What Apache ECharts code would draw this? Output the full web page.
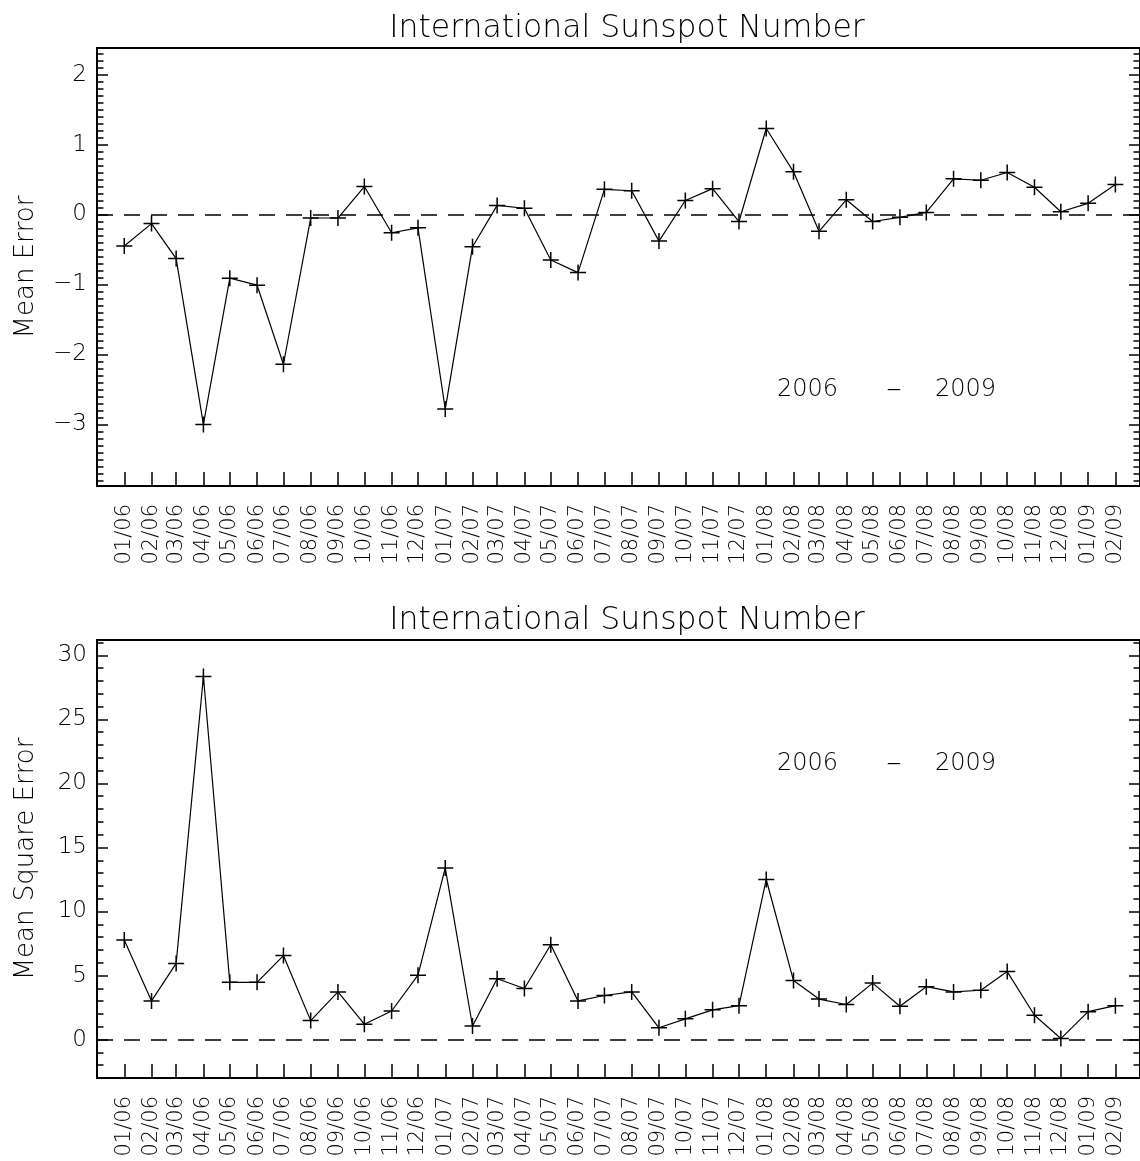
<!DOCTYPE html>
<html>
<head>
<meta charset="utf-8">
<script src="https://cdn.jsdelivr.net/npm/echarts@6/dist/echarts.min.js"></script>
<style>
  html, body { margin: 0; padding: 0; background: #fff; }
  #chart { width: 1140px; height: 1161px; }
</style>
</head>
<body>
<div id="chart"></div>
<script>
// Monthly verification of sunspot number forecasts, Jan 2006 - Feb 2009
const months = [
  '2006-01','2006-02','2006-03','2006-04','2006-05','2006-06','2006-07','2006-08','2006-09','2006-10','2006-11','2006-12',
  '2007-01','2007-02','2007-03','2007-04','2007-05','2007-06','2007-07','2007-08','2007-09','2007-10','2007-11','2007-12',
  '2008-01','2008-02','2008-03','2008-04','2008-05','2008-06','2008-07','2008-08','2008-09','2008-10','2008-11','2008-12',
  '2009-01','2009-02'
];

const meanError = [
  -0.45, -0.13, -0.63, -3.00, -0.91, -1.01, -2.14, -0.05, -0.05, 0.40, -0.26, -0.19,
  -2.78, -0.46, 0.13, 0.09, -0.65, -0.83, 0.36, 0.34, -0.38, 0.20, 0.37, -0.10,
  1.23, 0.61, -0.24, 0.21, -0.10, -0.04, 0.03, 0.51, 0.49, 0.60, 0.39, 0.04,
  0.16, 0.43
];

const meanSquareError = [
  7.77, 3.02, 5.95, 28.35, 4.47, 4.47, 6.56, 1.48, 3.72, 1.20, 2.23, 5.03,
  13.40, 1.06, 4.75, 3.99, 7.40, 3.02, 3.44, 3.72, 0.92, 1.62, 2.32, 2.65,
  12.50, 4.61, 3.16, 2.74, 4.41, 2.60, 4.13, 3.72, 3.85, 5.31, 1.90, 0.08,
  2.18, 2.65
];

const meTicks = [-3, -2, -1, 0, 1, 2];
const mseTicks = [0, 5, 10, 15, 20, 25, 30];

const titleText = 'International Sunspot Number';
const periodFrom = '2006';
const periodTo = '2009';

// ---------------------------------------------------------------------------
const FONT = 'DejaVu Sans';
const WEIGHT = 200;

// x positions are day numbers (UTC), so month lengths show in the spacing
const DAY = 86400000;
function monthDay(s) {
  const p = s.split('-').map(Number);
  return Date.UTC(p[0], p[1] - 1, 1) / DAY;
}
function fmtMonth(v) {
  const d = new Date(Math.round(v) * DAY);
  return String(d.getUTCMonth() + 1).padStart(2, '0') + '/' + String(d.getUTCFullYear() % 100).padStart(2, '0');
}
function fmtNum(v) {
  return v < 0 ? '\u2212' + Math.abs(v) : String(v);
}

const monthDays = months.map(monthDay);
const xMin = Date.UTC(2005, 11, 1) / DAY;
const xMax = Date.UTC(2009, 2, 1) / DAY;

const meMinor = [];
for (let i = -38; i <= 23; i++) meMinor.push(i / 10);
const mseMinor = [];
for (let i = -3; i <= 31; i++) mseMinor.push(i);

const plusSymbol = 'path://M0,8L16,8M8,0L8,16';

const GRID_LEFT = 97;
const GRID_WIDTH = 1050;
const GRID_HEIGHT = 438;
const grids = [
  { top: 48, yMin: -3.88, yMax: 2.38, major: meTicks, minor: meMinor, name: 'Mean Error', values: meanError },
  { top: 640, yMin: -3, yMax: 31.2, major: mseTicks, minor: mseMinor, name: 'Mean Square Error', values: meanSquareError }
];

const option = {
  animation: false,
  backgroundColor: '#fff',
  textStyle: { fontFamily: FONT, fontWeight: WEIGHT, color: '#000' },
  title: grids.map(g => ({
    text: titleText,
    left: GRID_LEFT + GRID_WIDTH / 2,
    top: g.top - 40,
    textAlign: 'center',
    textStyle: { fontFamily: FONT, fontWeight: WEIGHT, fontSize: 31.5, color: '#000' }
  })),
  grid: grids.map(g => ({
    left: GRID_LEFT, top: g.top, width: GRID_WIDTH, height: GRID_HEIGHT,
    show: true, borderColor: '#000', borderWidth: 2, backgroundColor: 'transparent'
  })),
  xAxis: grids.map((g, gi) => ({
    type: 'value', gridIndex: gi, min: xMin, max: xMax, scale: true,
    position: 'bottom',
    axisLine: { show: false, onZero: false },
    splitLine: { show: false },
    axisTick: { show: true, inside: true, length: 14, customValues: monthDays, lineStyle: { color: '#000', width: 1.5 } },
    axisLabel: {
      show: true, rotate: 90, margin: 18, customValues: monthDays,
      formatter: v => fmtMonth(v),
      fontFamily: FONT, fontWeight: WEIGHT, fontSize: 21, color: '#000'
    }
  })),
  yAxis: [],
  series: [],
  graphic: []
};

grids.forEach((g, gi) => {
  const base = {
    type: 'value', gridIndex: gi, min: g.yMin, max: g.yMax,
    axisLine: { show: false, onZero: false }, splitLine: { show: false }
  };
  // left: major ticks with labels and name
  option.yAxis.push(Object.assign({}, base, {
    position: 'left',
    name: g.name, nameLocation: 'middle', nameGap: 58, nameRotate: 90,
    nameTextStyle: { fontFamily: FONT, fontWeight: WEIGHT, fontSize: 26, color: '#000' },
    axisTick: { show: true, inside: true, length: 11, customValues: g.major, lineStyle: { color: '#000', width: 1.5 } },
    axisLabel: { show: true, margin: 10, customValues: g.major, formatter: v => fmtNum(v),
      fontFamily: FONT, fontWeight: WEIGHT, fontSize: 23, color: '#000' }
  }));
  // left: minor ticks
  option.yAxis.push(Object.assign({}, base, {
    position: 'left',
    axisTick: { show: true, inside: true, length: 6.5, customValues: g.minor, lineStyle: { color: '#000', width: 1.5 } },
    axisLabel: { show: false }
  }));
  // right: major ticks
  option.yAxis.push(Object.assign({}, base, {
    position: 'right',
    axisTick: { show: true, inside: true, length: 11, customValues: g.major, lineStyle: { color: '#000', width: 1.5 } },
    axisLabel: { show: false }
  }));
  // right: minor ticks
  option.yAxis.push(Object.assign({}, base, {
    position: 'right',
    axisTick: { show: true, inside: true, length: 6.5, customValues: g.minor, lineStyle: { color: '#000', width: 1.5 } },
    axisLabel: { show: false }
  }));

  option.series.push({
    type: 'line',
    xAxisIndex: gi,
    yAxisIndex: gi * 4,
    data: months.map((m, i) => [monthDays[i], g.values[i]]),
    symbol: plusSymbol,
    symbolSize: 16,
    showAllSymbol: true,
    lineStyle: { color: '#000', width: 1.2 },
    itemStyle: { color: 'rgba(0,0,0,0)', borderColor: '#000', borderWidth: 1.5 },
    emphasis: { disabled: true },
    markLine: {
      silent: true,
      symbol: ['none', 'none'],
      label: { show: false },
      lineStyle: { color: '#000', type: [16, 11], width: 1.5 },
      data: [{ yAxis: 0 }]
    }
  });

  // period annotation inside each panel
  const cy = gi === 0 ? 390 : 764;
  const txt = { fontFamily: FONT, fontWeight: WEIGHT, fontSize: 24, fill: '#000', verticalAlign: 'middle' };
  option.graphic.push(
    { type: 'text', x: 777, y: cy, style: Object.assign({ text: periodFrom, align: 'left' }, txt) },
    { type: 'text', x: 894, y: cy, style: Object.assign({}, txt, { text: '\u2013', align: 'center', fontSize: 31 }) },
    { type: 'text', x: 935, y: cy, style: Object.assign({ text: periodTo, align: 'left' }, txt) }
  );
});

const chart = echarts.init(document.getElementById('chart'), null, { renderer: 'canvas' });
chart.setOption(option);
</script>
</body>
</html>
